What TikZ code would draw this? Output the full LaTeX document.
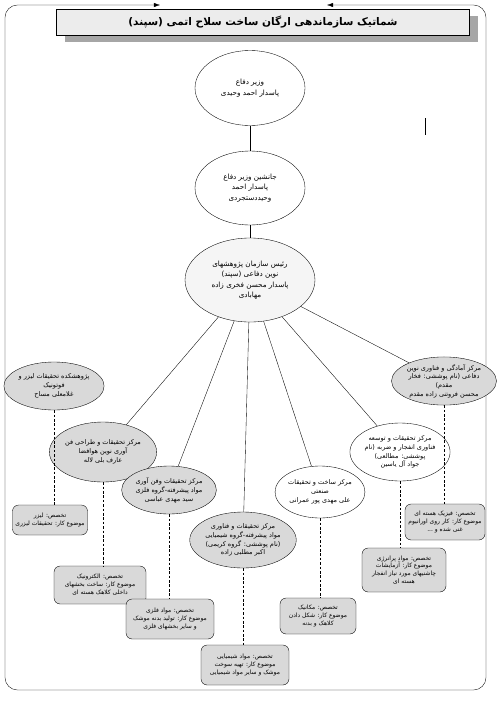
\documentclass[tikz,border=0pt]{standalone}
\usepackage{fontspec}
\usetikzlibrary{shapes.geometric,shadows,arrows.meta}
\newfontfamily\arabicfont[Script=Arabic]{DejaVu Sans}
\TeXXeTstate=1
\newcommand{\fa}[1]{\beginR #1\endR}

\tikzset{
  >={Latex[length=7pt,width=5pt]},
  dims/.style 2 args={minimum width=#1*0.04cm, minimum height=#2*0.04cm},
  org/.style={ellipse, draw, align=center, inner sep=0pt,
    font=\arabicfont\fontsize{8.2}{12}\selectfont},
  unit/.style={org, fill=gray!30, font=\arabicfont\fontsize{7.4}{10}\selectfont},
  task/.style={draw, rounded corners=7pt, fill=gray!30, align=center,
    inner sep=1pt, font=\arabicfont\fontsize{6.8}{9}\selectfont},
  link/.style={dash pattern=on 3pt off 2pt}
}

\begin{document}
\begin{tikzpicture}[x=0.04cm, y=-0.04cm]
    \useasboundingbox (0,0) rectangle (500,710);
    % frame and title
    \draw[<->, rounded corners=0.5cm] (160,5) -- (5,5) -- (5,690) --
    (486,690) -- (486,5) -- (327,5);
    \node[draw, fill=gray!15, dims={413}{26}, drop shadow={shadow
    xshift=0.32cm, shadow yshift=-0.28cm, fill=gray!70, opacity=1}]
    (title) at (263,22) {\arabicfont\bfseries\fontsize{12}{14}\selectfont
    \fa{شماتیک سازماندهی ارگان ساخت سلاح اتمی (سپند)}};
    \draw (425,118) -- (425,135);

    % top of the chain
    \node[org, fill=white, dims={110}{75}] (minister) at (250,88)
    {\fa{وزیر دفاع}\\\fa{پاسدار احمد وحیدی}};
    \node[org, fill=white, dims={110}{74}] (deputy) at (250,188)
    {\fa{جانشین وزیر دفاع}\\\fa{پاسدار احمد}\\\fa{وحیددستجردی}};
    \node[org, fill=gray!8, dims={130}{84}] (chief) at (250,280)
    {\fa{رئیس سازمان پژوهشهای}\\\fa{نوین دفاعی (سپند)}\\
    \fa{پاسدار محسن فخری زاده}\\\fa{مهابادی}};
    \draw (minister) -- (deputy); \draw (deputy) -- (chief);

    % centres
    \node[unit, dims={98}{48}] (laser) at (54,386)
    {\fa{پژوهشکده تحقیقات لیزر و}\\\fa{فوتونیک}\\\fa{غلامعلی مساح}};
    \node[unit, dims={92}{60}] (aero) at (103,452)
    {\fa{مرکز تحقیقات و طراحی فن}\\\fa{آوری نوین هوافضا}\\\fa{عارف بلی لاله}};
    \node[unit, dims={88}{48}] (metal) at (169,490)
    {\fa{مرکز تحقیقات وفن آوری}\\\fa{مواد پیشرفته-گروه فلزی}\\\fa{سید مهدی عباسی}};
    \node[unit, dims={84}{56}] (chem) at (243,540)
    {\fa{مرکز تحقیقات و فناوری}\\\fa{مواد پیشرفته-گروه شیمیایی}\\
    \fa{(نام پوششی: گروه کریمی)}\\\fa{اکبر مطلبی زاده}};
    \node[org, fill=white, dims={86}{52}, font=\arabicfont\fontsize{7.4}{10}\selectfont]
    (industry) at (320,492)
    {\fa{مرکز ساخت و تحقیقات}\\\fa{صنعتی}\\\fa{علی مهدی پور عمرانی}};
    \node[org, fill=white, dims={80}{58}, font=\arabicfont\fontsize{7.4}{10}\selectfont]
    (blast) at (400,452)
    {\fa{مرکز تحقیقات و توسعه}\\\fa{فناوری انفجار و ضربه (نام}\\
    \fa{پوششی: مطالعی)}\\\fa{جواد آل یاسین}};
    \node[unit, dims={80}{48}] (ready) at (444,381)
    {\fa{مرکز آمادگی و فناوری نوین}\\\fa{دفاعی (نام پوششی: فخار}\\
    \fa{مقدم)}\\\fa{محسن فروتنی زاده مقدم}};
    \foreach \c in {aero,metal,chem,industry,blast,ready}
      \draw (chief) -- (\c);

    % tasks
    \node[task, dims={75}{30}] (laserjob) at (50,520)
    {\fa{تخصص: لیزر}\\\fa{موضوع کار: تحقیقات لیزری}};
    \node[task, dims={92}{38}] (aerojob) at (100,585)
    {\fa{تخصص: الکترونیک}\\\fa{موضوع کار: ساخت بخشهای}\\\fa{داخلی کلاهک هسته ای}};
    \node[task, dims={88}{40}] (metaljob) at (170,619)
    {\fa{تخصص: مواد فلزی}\\\fa{موضوع کار: تولید بدنه موشک}\\\fa{و سایر بخشهای فلزی}};
    \node[task, dims={88}{40}] (chemjob) at (245,665)
    {\fa{تخصص: مواد شیمیایی}\\\fa{موضوع کار: تهیه سوخت}\\\fa{موشک و سایر مواد شیمیایی}};
    \node[task, dims={76}{36}] (industryjob) at (318,616)
    {\fa{تخصص: مکانیک}\\\fa{موضوع کار: شکل دادن}\\\fa{کلاهک و بدنه}};
    \node[task, dims={84}{44}] (blastjob) at (404,570)
    {\fa{تخصص: مواد پرانرژی}\\\fa{موضوع کار: آزمایشات}\\
    \fa{چاشنیهای مورد نیاز انفجار}\\\fa{هسته ای}};
    \node[task, dims={80}{36}] (readyjob) at (445,522)
    {\fa{تخصص: فیزیک هسته ای}\\\fa{موضوع کار: کار روی اورانیوم}\\\fa{غنی شده و ...}};
    \foreach \c in {laser,aero,metal,chem,industry,blast,ready}
      \draw[link] (\c.south) -- (\c.south |- \c job.north);
  \end{tikzpicture}
\end{document}
